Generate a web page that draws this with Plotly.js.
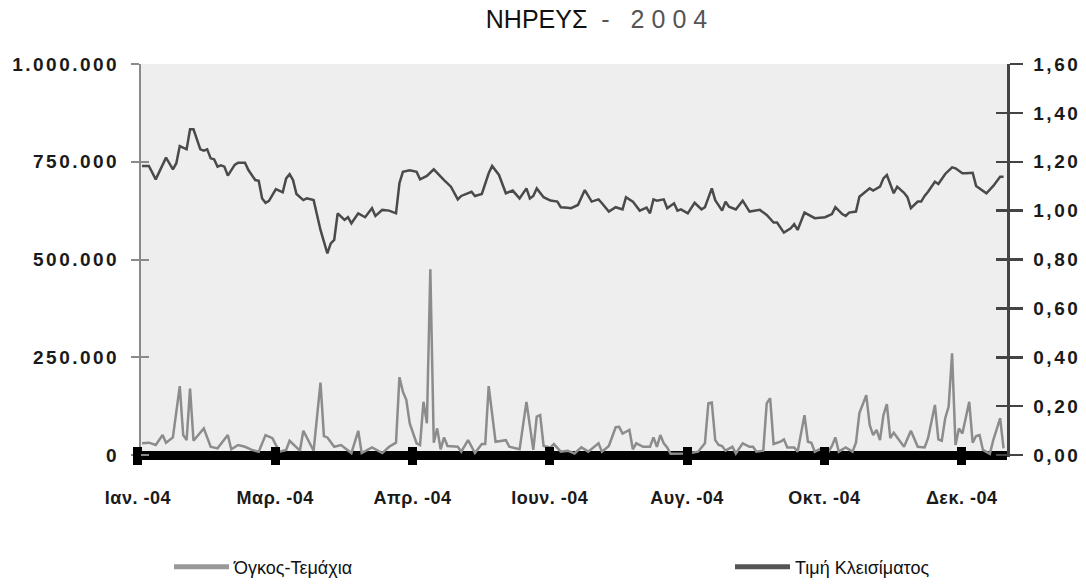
<!DOCTYPE html>
<html><head><meta charset="utf-8">
<script src="https://cdn.plot.ly/plotly-3.0.1.min.js"></script>
<style>
html,body{margin:0;padding:0;background:#fff;}
#chart{width:1086px;height:586px;}
g.ytick text, g.y2tick text {letter-spacing:2.5px;}
g.xtick text {letter-spacing:0.5px;}
</style></head><body><div id="chart"></div>
<script>
// trading-day index of each reading and the volume (pieces)
const volDay = [0,2,4,6,7,9,11,12,13,14,15,18,20,22,25,26,28,30,32,34,36,38,40,42,43,46,47,50,52,53,54,56,58,61,63,64,67,70,72,74,
75,76,77,78,80,81,82,83,84,85,86,87,88,89,92,93,95,97,99,100,101,102,103,106,107,110,112,114,115,116,117,119,120,122,124,126,128,130,
133,134,136,138,139,140,142,143,144,146,148,149,150,151,152,153,154,159,162,164,165,166,167,168,169,170,172,173,175,177,178,179,181,
182,183,184,186,187,188,190,191,193,194,195,196,198,200,201,202,203,205,207,208,209,211,212,213,214,215,216,217,218,219,222,224,226,
228,229,231,232,233,234,235,236,237,238,239,241,242,243,244,245,247,248,250,251];
const volume = [30000,31500,25600,51000,31500,45000,176000,51000,38000,170000,36500,68000,21000,17000,51000,14500,25500,21000,13000,8500,
51000,43000,8500,13000,36500,11000,62000,11000,185000,48500,45000,21000,25500,5000,62000,5000,19500,5000,21000,31500,
199000,162000,141000,81000,30000,25500,136000,81000,475000,31500,68000,14500,45000,23000,21000,8500,38000,5000,28000,28000,176000,107000,34000,38000,21000,14500,136000,13000,98000,102000,23000,19500,28000,8500,11000,4000,19500,8500,
30000,8500,23000,71000,72000,55000,64000,14500,30000,21000,21000,45000,21000,51000,30000,19500,3000,4000,8500,30000,132000,134000,38000,25500,23000,11000,21000,4000,30000,21000,21000,8500,11000,
132000,145000,28000,34000,40000,19500,19500,8500,102000,34000,31500,8500,17000,8500,23000,45000,8500,19500,8500,31500,107000,153000,77000,51000,64000,38000,102000,130000,43000,57000,21000,62000,21000,
19500,43000,128000,40000,36500,94000,124000,260000,25500,68000,55000,136000,31500,48500,51000,13000,3000,38000,94000,17000];

// trading-day index of each reading and the closing price (EUR)
const priceDay = [0,2,4,7,9,10,11,12,13,14,15,17,18,19,20,21,22,23,24,25,27,28,30,31,33,34,35,36,37,39,41,42,43,44,45,47,48,50,52,54,55,56,57,59,60,61,63,65,67,68,70,72,74,
75,76,78,80,81,83,85,86,88,90,92,93,96,97,99,101,102,104,106,108,110,112,113,114,115,117,119,121,122,124,125,127,129,131,133,134,136,138,140,141,143,145,147,148,149,150,152,153,155,156,157,159,161,
163,164,166,167,169,170,171,173,175,177,180,182,184,185,187,189,190,191,193,196,199,201,202,204,205,206,208,209,212,213,215,216,217,219,220,222,223,224,226,227,228,229,231,232,234,236,237,239,240,242,243,246,248,250,251];
const price = [1.183,1.183,1.128,1.217,1.169,1.194,1.264,1.259,1.251,1.333,1.333,1.251,1.245,1.251,1.214,1.21,1.18,1.185,1.18,1.143,1.187,1.196,1.196,1.166,1.125,1.122,1.05,1.032,1.04,1.088,1.075,1.132,1.149,1.125,1.068,1.043,1.05,1.043,0.921,0.825,0.866,0.88,0.989,0.962,0.973,0.948,0.989,0.973,1.01,0.978,1.003,1.0,0.989,
1.112,1.159,1.165,1.159,1.128,1.142,1.169,1.153,1.125,1.098,1.046,1.06,1.077,1.06,1.068,1.153,1.183,1.146,1.071,1.082,1.05,1.091,1.05,1.06,1.091,1.055,1.041,1.037,1.014,1.012,1.01,1.023,1.084,1.037,1.046,1.03,0.996,1.014,1.005,1.055,1.037,1.0,1.012,0.989,1.046,1.041,1.046,1.01,1.03,1.0,1.005,0.989,1.032,
1.005,1.014,1.091,1.043,1.0,1.037,1.016,1.005,1.041,0.996,1.003,0.982,0.951,0.951,0.91,0.928,0.945,0.921,0.992,0.969,0.973,0.986,1.014,0.986,0.978,0.992,0.996,1.057,1.091,1.082,1.098,1.132,1.146,1.071,1.098,1.073,1.055,1.01,1.037,1.037,1.06,1.077,1.118,1.109,1.15,1.177,1.173,1.153,1.153,1.155,1.101,1.071,1.101,1.139,1.139];

const monthTickPos = [-1.2, 38.8, 78.8, 118.8, 158.8, 198.8, 238.8];
const monthTickText = ['Ιαν. -04','Μαρ. -04','Απρ. -04','Ιουν. -04','Αυγ. -04','Οκτ. -04','Δεκ. -04'];
const volTickVals = [0, 250000, 500000, 750000, 1000000];
const volTickText = ['0','250.000','500.000','750.000','1.000.000'];
const priceTickVals = [0,0.2,0.4,0.6,0.8,1.0,1.2,1.4,1.6];
const priceTickText = ['0,00','0,20','0,40','0,60','0,80','1,00','1,20','1,40','1,60'];
const seriesNames = ['Όγκος-Τεμάχια','Τιμή Κλεισίματος'];

const SANS = '"Liberation Sans", Arial, sans-serif';
const tickFont = {family: SANS, size: 19, color: '#1a1a1a', weight: 'bold'};
const xTickFont = {family: SANS, size: 18, color: '#1a1a1a', weight: 'bold'};
const volRange = [-5115, 1000000];
const priceRange = [-0.00818, 1.6];
const xRange = [-2.622, 252.0];

const traces = [
  {x: volDay, y: volume, type: 'scatter', mode: 'lines', line: {color: '#8c8c8c', width: 2.5}, showlegend: false, hoverinfo: 'skip', xaxis: 'x', yaxis: 'y'},
  {x: priceDay, y: price, type: 'scatter', mode: 'lines', line: {color: '#4a4a4a', width: 2.5}, showlegend: false, hoverinfo: 'skip', xaxis: 'x', yaxis: 'y2'},
  {x: [null], y: [null], type: 'scatter', mode: 'lines', name: seriesNames[0], line: {color: '#999999', width: 5}, legend: 'legend', xaxis: 'x', yaxis: 'y'},
  {x: [null], y: [null], type: 'scatter', mode: 'lines', name: seriesNames[1], line: {color: '#555555', width: 5}, legend: 'legend2', xaxis: 'x', yaxis: 'y2'},
  {x: [], y: [], type: 'scatter', mode: 'lines', showlegend: false, xaxis: 'x2', yaxis: 'y3', hoverinfo: 'skip'},
  {x: [], y: [], type: 'scatter', mode: 'lines', showlegend: false, xaxis: 'x', yaxis: 'y4', hoverinfo: 'skip'}
];

const legendCommon = {orientation: 'h', xref: 'container', yref: 'container', yanchor: 'middle', xanchor: 'left',
  bgcolor: 'rgba(0,0,0,0)', borderwidth: 0, itemwidth: 55,
  font: {family: SANS, size: 18, color: '#111'}};

const layout = {
  width: 1086, height: 586,
  margin: {l: 133, r: 79, t: 64, b: 129, pad: 0},
  paper_bgcolor: '#ffffff', plot_bgcolor: '#ffffff',
  showlegend: true,
  title: {
    text: 'ΝΗΡΕΥΣ<span style="color:#555555;letter-spacing:7px"> - 2004</span>',
    x: 0.5525, xanchor: 'center', xref: 'container',
    y: 0.967, yanchor: 'middle', yref: 'container',
    font: {family: SANS, size: 25, color: '#111'}
  },
  shapes: [{type: 'rect', xref: 'paper', yref: 'paper', x0: 0.008, x1: 1, y0: 0, y1: 1,
            fillcolor: '#eeeeee', line: {width: 0}, layer: 'below'}],
  xaxis: {range: xRange, tickmode: 'array', tickvals: monthTickPos, ticktext: monthTickText,
          ticks: 'outside', ticklen: 7, tickwidth: 9, tickcolor: '#000',
          showgrid: false, zeroline: false, showline: false, tickfont: xTickFont, ticklabelstandoff: 17, fixedrange: true},
  xaxis2: {overlaying: 'x', anchor: 'y', range: xRange, tickmode: 'array', tickvals: monthTickPos,
          ticks: 'inside', ticklen: 10, tickwidth: 9, tickcolor: '#000', showticklabels: false,
          showgrid: false, zeroline: false, showline: false},
  yaxis: {range: volRange, anchor: 'free', position: 0.008, tickmode: 'array', tickvals: volTickVals, ticktext: volTickText,
          ticks: 'outside', ticklen: 8, tickwidth: 2, tickcolor: '#8a8a8a',
          showline: true, linecolor: '#8a8a8a', linewidth: 2,
          zeroline: true, zerolinecolor: '#000', zerolinewidth: 9,
          showgrid: false, tickfont: tickFont, ticklabelstandoff: 8},
  yaxis3: {overlaying: 'y', anchor: 'free', position: 0.008, range: volRange, tickmode: 'array', tickvals: volTickVals,
          ticks: 'inside', ticklen: 8, tickwidth: 2, tickcolor: '#8a8a8a', showticklabels: false,
          showline: false, zeroline: false, showgrid: false},
  yaxis2: {overlaying: 'y', side: 'right', anchor: 'x', range: priceRange, tickmode: 'array',
          tickvals: priceTickVals, ticktext: priceTickText,
          ticks: 'outside', ticklen: 13, tickwidth: 2.5, tickcolor: '#444',
          showline: true, linecolor: '#444', linewidth: 2.5,
          zeroline: false, showgrid: false, tickfont: tickFont, ticklabelstandoff: 7},
  yaxis4: {overlaying: 'y', side: 'right', anchor: 'x', range: priceRange, tickmode: 'array', tickvals: priceTickVals,
          ticks: 'inside', ticklen: 11, tickwidth: 2.5, tickcolor: '#444', showticklabels: false,
          showline: false, zeroline: false, showgrid: false},
  legend: Object.assign({}, legendCommon, {x: 169/1086, y: 1 - 567/586}),
  legend2: Object.assign({}, legendCommon, {x: 730/1086, y: 1 - 567/586})
};

Plotly.newPlot('chart', traces, layout, {displayModeBar: false, staticPlot: true});
</script>
</body></html>
